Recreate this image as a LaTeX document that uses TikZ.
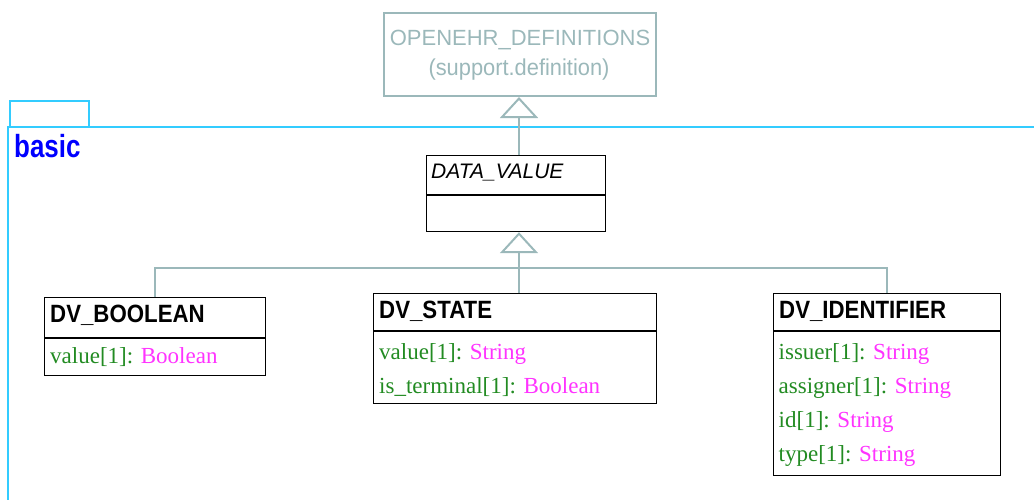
\documentclass[tikz,border=0pt]{standalone}
\usepackage{fontspec}
\setmainfont{Liberation Serif}
\newfontfamily\sansN[FakeStretch=0.89]{Liberation Sans}
\newfontfamily\sansS[FakeStretch=0.95]{Liberation Sans}
\newfontfamily\sansP{Liberation Sans}
\newfontfamily\sansK[FakeStretch=0.81]{Liberation Sans}
\usetikzlibrary{arrows.meta}
\definecolor{genc}{HTML}{9BB8BA}
\definecolor{pkgc}{HTML}{33CCFF}
\definecolor{attrc}{HTML}{228B22}
\definecolor{typc}{HTML}{FF33FF}
\tikzset{
  cls/.style={draw=black, line width=1.2pt, rectangle, anchor=north west, inner sep=0pt},
  sepline/.style={draw=black, line width=1.2pt},
  genline/.style={draw=genc, line width=2pt},
  genarrow/.style={genline, -{Triangle[open, width=38pt, length=21pt]}},
  pkgline/.style={draw=pkgc, line width=2pt},
  ttl/.style={anchor=base west, inner sep=0pt, font=\sansN\bfseries\fontsize{25}{29}\selectfont},
  attr/.style={anchor=base west, inner sep=0pt, font=\fontsize{23}{27}\selectfont},
}
\newcommand{\at}[2]{\textcolor{attrc}{#1}\textcolor{typc}{#2}}
\begin{document}
\begin{tikzpicture}[x=1pt, y=-1pt]
\useasboundingbox (0,0) rectangle (1034,499);
% package frame
\draw[pkgline] (10,127) rectangle (89,100.5);
\draw[pkgline] (7.5,510) -- (7.5,127) -- (1040,127);
\node[anchor=base west, inner sep=0pt, text=blue, font=\sansK\bfseries\fontsize{32}{36}\selectfont] (pkgname) at (14,157.5) {basic};
% parent package class
\node[draw=genc, line width=2pt, rectangle, anchor=north west, inner sep=0pt, minimum width=272pt, minimum height=83pt] (oe) at (383,12) {};
\node[anchor=base, inner sep=0pt, text=genc, font=\sansP\fontsize{22}{26}\selectfont] (oeA) at (520,45) {OPENEHR\_DEFINITIONS};
\node[anchor=base, inner sep=0pt, text=genc, font=\sansS\fontsize{23}{27}\selectfont] (oeB) at (519,75.5) {(support.definition)};
% DATA_VALUE
\node[cls, minimum width=179pt, minimum height=76pt] (dv) at (426,155) {};
\draw[sepline] ([yshift=-40pt]dv.north west) -- ([yshift=-40pt]dv.north east);
\node[anchor=base west, inner sep=0pt, font=\sansP\itshape\fontsize{21}{25}\selectfont] (dvT) at (431,178) {DATA\_VALUE};
% DV_BOOLEAN
\node[cls, minimum width=221pt, minimum height=78pt] (bo) at (44,297) {};
\draw[sepline] ([yshift=-41pt]bo.north west) -- ([yshift=-41pt]bo.north east);
\node[ttl] (boT) at (50,322) {DV\_BOOLEAN};
\node[attr] (boA) at (50,363.5) {\at{value[1]: }{Boolean}};
% DV_STATE
\node[cls, minimum width=283pt, minimum height=110pt] (st) at (373,293) {};
\draw[sepline] ([yshift=-38pt]st.north west) -- ([yshift=-38pt]st.north east);
\node[ttl] (stT) at (379,318) {DV\_STATE};
\node[attr] (stA) at (379,359.3) {\at{value[1]: }{String}};
\node[attr] (stB) at (379,393.4) {\at{is\_terminal[1]: }{Boolean}};
% DV_IDENTIFIER
\node[cls, minimum width=227pt, minimum height=182pt] (id) at (773,293) {};
\draw[sepline] ([yshift=-38pt]id.north west) -- ([yshift=-38pt]id.north east);
\node[ttl] (idT) at (779,318) {DV\_IDENTIFIER};
\node[attr] (idA) at (778.5,359.3) {\at{issuer[1]: }{String}};
\node[attr] (idB) at (778.5,393.4) {\at{assigner[1]: }{String}};
\node[attr] (idC) at (778.5,427.5) {\at{id[1]: }{String}};
\node[attr] (idD) at (778.5,461.6) {\at{type[1]: }{String}};
% connectors
\coordinate (ax) at (519,0);
\coordinate (hub) at (519,268);
\draw[genarrow] (dv.north -| ax) -- (oe.south -| ax);
\draw[genarrow] (st.north -| ax) -- (dv.south -| ax);
\draw[genline] (bo.north) |- (hub) -| (id.north);
\end{tikzpicture}
\end{document}
